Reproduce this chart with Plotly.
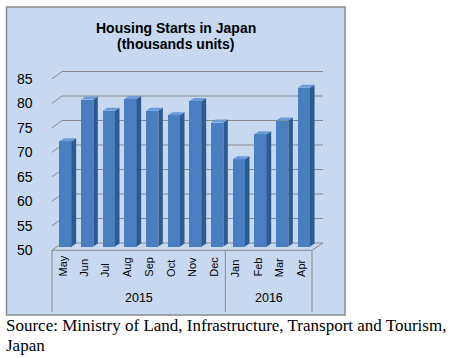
import plotly.graph_objects as go

# ---------------- data ----------------
months = ["May", "Jun", "Jul", "Aug", "Sep", "Oct", "Nov", "Dec", "Jan", "Feb", "Mar", "Apr"]
years = ["2015", "2016"]
year_counts = [8, 4]
starts = [71.5, 80.0, 77.7, 80.1, 77.7, 76.8, 79.7, 75.3, 67.8, 72.9, 75.7, 82.4]
y_ticks = [50, 55, 60, 65, 70, 75, 80, 85]

title_line1 = "Housing Starts in Japan"
title_line2 = "(thousands units)"
source_line1 = "Source: Ministry of Land, Infrastructure, Transport and Tourism,"
source_line2 = "Japan"

# ---------------- geometry (pixels of the 452x358 canvas) ----------------
W, H = 452, 358
X0, DX = 65.5, 21.67        # bar-plane centre of first category, px per category
Y50, KY = 246.5, 4.9         # bar-plane pixel of value 50, px per unit
BASE = 50

def px_to_x(p):
    return (p - X0) / DX

def py_to_y(p):
    return BASE + (Y50 - p) / KY

BAR_W = 12.3 / DX
DEP_X = 4.5 / DX
DEP_Y = 3.0 / KY
FRONT_DY = -3.8 / KY
BACK_DY = 3.5 / KY
FRONT_L, FRONT_R = px_to_x(52), px_to_x(312)
BACK_L, BACK_R = px_to_x(62), px_to_x(323)

FACE = "#4A7EC0"
SIDE = "#2D5A8F"
TOP = "#6B9AD6"
GRID = "#8A8A8A"
BG = "#C6D9F1"

fig = go.Figure()

xs = list(range(len(months)))

# front faces
fig.add_trace(go.Bar(
    x=xs, y=[v - BASE for v in starts], base=BASE, width=BAR_W,
    marker=dict(color=FACE, line=dict(width=0)), hoverinfo="skip", showlegend=False))

# side and top faces
side_x, side_y, top_x, top_y = [], [], [], []
for i, v in zip(xs, starts):
    xl, xr = i - BAR_W / 2, i + BAR_W / 2
    side_x += [xr, xr + DEP_X, xr + DEP_X, xr, xr, None]
    side_y += [BASE, BASE + DEP_Y, v + DEP_Y, v, BASE, None]
    top_x += [xl, xl + DEP_X, xr + DEP_X, xr, xl, None]
    top_y += [v, v + DEP_Y, v + DEP_Y, v, v, None]
fig.add_trace(go.Scatter(x=side_x, y=side_y, mode="lines", fill="toself", fillcolor=SIDE,
                         line=dict(width=0, color=SIDE), hoverinfo="skip", showlegend=False))
fig.add_trace(go.Scatter(x=top_x, y=top_y, mode="lines", fill="toself", fillcolor=TOP,
                         line=dict(width=0, color=TOP), hoverinfo="skip", showlegend=False))

shapes = []
# chart frame
shapes.append(dict(type="rect", xref="paper", yref="paper", layer="below",
                   x0=6.5 / W, x1=345 / W, y0=1 - 315 / H, y1=1 - 7 / H,
                   fillcolor=BG, line=dict(color="#8C8C8C", width=1.5)))
# gridlines (3D walls)
for t in y_ticks:
    path = (f"M {FRONT_L},{t + FRONT_DY} L {BACK_L},{t + BACK_DY} L {BACK_R},{t + BACK_DY}")
    shapes.append(dict(type="path", xref="x", yref="y", layer="below", path=path,
                       line=dict(color=GRID, width=1)))
# floor front edge and right edge
floor = (f"M {FRONT_L},{BASE + FRONT_DY} L {FRONT_R},{BASE + FRONT_DY} "
         f"L {BACK_R},{BASE + BACK_DY}")
shapes.append(dict(type="path", xref="x", yref="y", layer="below", path=floor,
                   line=dict(color=GRID, width=1)))
# category group separators
y_bottom = py_to_y(312)
pos = 0
bounds = [0]
for c in year_counts:
    pos += c
    bounds.append(pos)
for b in bounds:
    xb = FRONT_L + b * (FRONT_R - FRONT_L) / len(months)
    shapes.append(dict(type="line", xref="x", yref="y", layer="below",
                       x0=xb, x1=xb, y0=BASE + FRONT_DY, y1=y_bottom,
                       line=dict(color=GRID, width=1)))

annotations = []
FONT = "Liberation Sans, Arial, sans-serif"
# y tick labels
for t in y_ticks:
    annotations.append(dict(x=px_to_x(35), y=t + FRONT_DY, xref="x", yref="y",
                            text=str(t), showarrow=False, xanchor="right", yanchor="middle",
                            font=dict(family=FONT, size=14, color="#000000")))
# month labels
for i, m in enumerate(months):
    annotations.append(dict(x=i - 0.16, y=py_to_y(279), xref="x", yref="y",
                            text=m, showarrow=False, textangle=-90,
                            xanchor="center", yanchor="bottom",
                            font=dict(family=FONT, size=11, color="#000000")))
# year labels
for k, yr in enumerate(years):
    xa = FRONT_L + bounds[k] * (FRONT_R - FRONT_L) / len(months)
    xb = FRONT_L + bounds[k + 1] * (FRONT_R - FRONT_L) / len(months)
    annotations.append(dict(x=(xa + xb) / 2, y=py_to_y(298), xref="x", yref="y",
                            text=yr, showarrow=False, xanchor="center", yanchor="middle",
                            font=dict(family=FONT, size=12.5, color="#000000")))
# title
annotations.append(dict(x=175.5 / W, y=1 - 27.5 / H, xref="paper", yref="paper",
                        text=f"<b>{title_line1}</b>", showarrow=False, borderpad=0,
                        xanchor="center", yanchor="middle",
                        font=dict(family=FONT, size=14, color="#000000")))
annotations.append(dict(x=175.5 / W, y=1 - 44 / H, xref="paper", yref="paper",
                        text=f"<b>{title_line2}</b>", showarrow=False, borderpad=0,
                        xanchor="center", yanchor="middle",
                        font=dict(family=FONT, size=14, color="#000000")))
# source
SERIF = "Liberation Serif, Times New Roman, serif"
annotations.append(dict(x=4 / W, y=1 - 325 / H, xref="paper", yref="paper",
                        text=source_line1, showarrow=False, xanchor="left", yanchor="middle",
                        font=dict(family=SERIF, size=17, color="#000000")))
annotations.append(dict(x=4 / W, y=1 - 345 / H, xref="paper", yref="paper",
                        text=source_line2, showarrow=False, xanchor="left", yanchor="middle",
                        font=dict(family=SERIF, size=17, color="#000000")))

fig.update_layout(
    width=W, height=H, margin=dict(l=0, r=0, t=0, b=0, pad=0),
    paper_bgcolor="#FFFFFF", plot_bgcolor="rgba(0,0,0,0)",
    xaxis=dict(range=[px_to_x(0), px_to_x(W)], visible=False, fixedrange=True),
    yaxis=dict(range=[py_to_y(H), py_to_y(0)], visible=False, fixedrange=True),
    shapes=shapes, annotations=annotations, bargap=0, showlegend=False,
)

fig.write_html(
    "out.html",
    config={"displayModeBar": False},
    post_script="document.body.style.margin='0';document.body.style.padding='0';"
                "document.body.style.overflow='hidden';",
)
